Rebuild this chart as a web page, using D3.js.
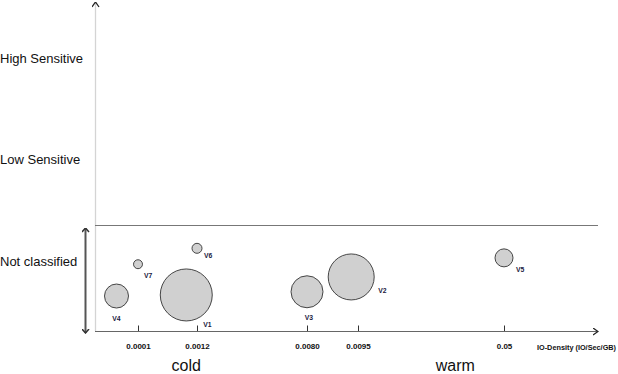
<!DOCTYPE html>
<html>
<head>
<meta charset="utf-8">
<script src="https://cdn.jsdelivr.net/npm/d3@7"></script>
<style>
  body { margin: 0; background: #fff; }
  svg { display: block; font-family: "Liberation Sans", Arial, sans-serif; }
</style>
</head>
<body>
<svg id="chart" width="618" height="374"></svg>
<script>
// categories on the vertical axis
const classes = ['Not classified', 'Low Sensitive', 'High Sensitive'];
// IO density ticks (IO/Sec/GB)
const densityTicks = [0.0001, 0.0012, 0.0080, 0.0095, 0.05];
const tickLabels = ['0.0001', '0.0012', '0.0080', '0.0095', '0.05'];
// volumes
const volNames = ['V1', 'V2', 'V3', 'V4', 'V5', 'V6', 'V7'];
const volDensity = [0.001, 0.0093, 0.008, 0.00005, 0.05, 0.0012, 0.0001];
const volLevel = [34, 51, 37, 33, 69, 78, 63];   // position inside the "Not classified" band
const volSize = [676, 529, 256, 144, 81, 25, 20];
const zones = ['cold', 'warm'];
const zoneAt = [0.0010, 0.0365];

// where each volume name sits relative to its bubble
const labelOffset = [[17, 32], [27, 16], [2, 28], [0, 25], [12, 14], [7, 10], [6, 14]];

const svg = d3.select('#chart');

const defs = svg.append('defs');
function marker(id, color, w, h, sw) {
  defs.append('marker')
    .attr('id', id)
    .attr('markerUnits', 'userSpaceOnUse')
    .attr('viewBox', `0 0 ${h} ${w * 2}`)
    .attr('refX', h - 0.5).attr('refY', w)
    .attr('markerWidth', h).attr('markerHeight', w * 2)
    .attr('orient', 'auto-start-reverse')
    .append('path')
    .attr('d', `M0.5,0.5L${h - 0.5},${w}L0.5,${w * 2 - 0.5}`)
    .attr('fill', 'none')
    .attr('stroke', color)
    .attr('stroke-width', sw);
}
marker('arr', '#222', 4, 6, 1.3);
marker('arrGray', '#333', 4, 5, 1.5);

// piecewise scale, the axis is not proportional
const x = d3.scaleLinear()
  .domain([0, 0.0001, 0.0012, 0.0080, 0.0095, 0.05, 0.06])
  .range([95, 138, 197, 307, 358, 504, 598]);

const yBand = d3.scaleLinear().domain([0, 100]).range([331, 225]);
const yClass = d3.scalePoint().domain(classes).range([261, 58]);
const r = d3.scaleSqrt().domain([0, d3.max(volSize)]).range([0, 26]);

// vertical axis
svg.append('line')
  .attr('x1', 95.5).attr('x2', 95.5)
  .attr('y1', 331).attr('y2', 2)
  .attr('stroke', '#d4d4d4')
  .attr('stroke-width', 1.3)
  .attr('marker-end', 'url(#arr)');

// class labels
svg.append('g')
  .selectAll('text')
  .data(classes)
  .join('text')
  .attr('x', 0)
  .attr('y', d => yClass(d))
  .attr('dy', '0.35em')
  .attr('font-size', 13)
  .attr('fill', '#111')
  .text(d => d);

// separator for the not classified band
svg.append('line')
  .attr('x1', 95).attr('x2', 598)
  .attr('y1', 225.5).attr('y2', 225.5)
  .attr('stroke', '#777')
  .attr('stroke-width', 1);

// double arrow for the band
svg.append('line')
  .attr('x1', 85.5).attr('x2', 85.5)
  .attr('y1', 228).attr('y2', 333)
  .attr('stroke', '#555')
  .attr('stroke-width', 2)
  .attr('marker-start', 'url(#arrGray)')
  .attr('marker-end', 'url(#arrGray)');

// x axis
const xAxis = svg.append('g')
  .attr('transform', 'translate(0,331.5)')
  .call(d3.axisBottom(x)
    .tickValues(densityTicks)
    .tickFormat((d, i) => tickLabels[i])
    .tickSizeOuter(0));
xAxis.select('.domain').remove();
xAxis.selectAll('.tick line')
  .attr('y1', -6).attr('y2', 0)
  .attr('stroke', '#333');
xAxis.selectAll('.tick text')
  .attr('y', 12)
  .attr('font-size', 8)
  .attr('font-weight', 'bold')
  .attr('font-family', '"Liberation Sans", Arial, sans-serif')
  .attr('fill', '#111');

svg.append('line')
  .attr('x1', 95).attr('x2', 598)
  .attr('y1', 331.5).attr('y2', 331.5)
  .attr('stroke', '#666')
  .attr('stroke-width', 1)
  .attr('marker-end', 'url(#arr)');

svg.append('text')
  .attr('x', 537).attr('y', 350)
  .attr('font-size', 7)
  .attr('font-weight', 'bold')
  .attr('textLength', 79)
  .attr('lengthAdjust', 'spacingAndGlyphs')
  .attr('fill', '#111')
  .text('IO-Density (IO/Sec/GB)');

// cold / warm
svg.append('g')
  .selectAll('text')
  .data(zones)
  .join('text')
  .attr('x', (d, i) => x(zoneAt[i]))
  .attr('y', 371)
  .attr('text-anchor', 'middle')
  .attr('font-size', 16)
  .attr('fill', '#111')
  .text(d => d);

// bubbles
const vols = volNames.map((name, i) => ({
  name, density: volDensity[i], level: volLevel[i], size: volSize[i], off: labelOffset[i]
}));

svg.append('g')
  .selectAll('circle')
  .data(vols)
  .join('circle')
  .attr('cx', d => x(d.density))
  .attr('cy', d => yBand(d.level))
  .attr('r', d => r(d.size))
  .attr('fill', '#d0d0d0')
  .attr('stroke', '#333')
  .attr('stroke-width', 0.9);

svg.append('g')
  .selectAll('text')
  .data(vols)
  .join('text')
  .attr('x', d => x(d.density) + d.off[0])
  .attr('y', d => yBand(d.level) + d.off[1])
  .attr('text-anchor', d => d.off[0] < 4 ? 'middle' : 'start')
  .attr('font-size', 6.8)
  .attr('font-weight', 'bold')
  .attr('fill', '#1a2040')
  .text(d => d.name);
</script>
</body>
</html>
